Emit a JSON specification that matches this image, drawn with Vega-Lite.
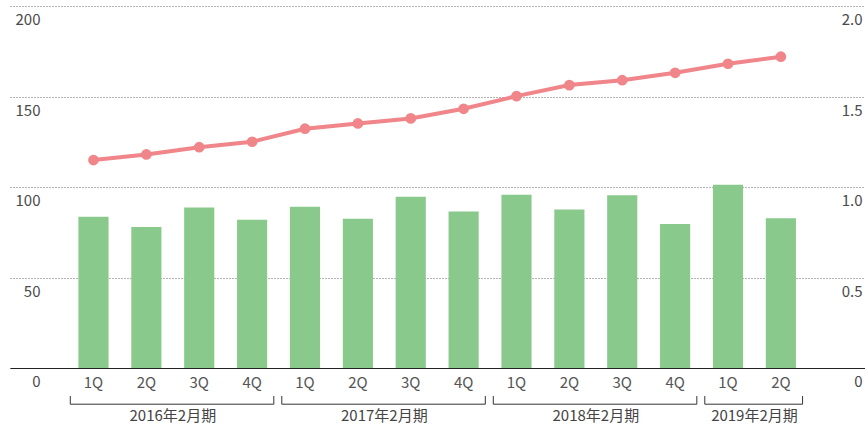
{
  "$schema": "https://vega.github.io/schema/vega-lite/v6.json",
  "width": 855,
  "height": 362,
  "padding": {"left": 10, "top": 6, "right": 0, "bottom": 57},
  "autosize": {"type": "none"},
  "background": "white",
  "config": {
    "view": {"stroke": null},
    "font": "Noto Sans CJK JP",
    "axis": {"labelFont": "Noto Sans CJK JP", "labelColor": "#4a4a4a", "labelFontSize": 15, "title": null}
  },
  "datasets": {
    "main": [
      {"key": "2016-1Q", "sales": 83.6, "ratio": 1.149},
      {"key": "2016-2Q", "sales": 77.9, "ratio": 1.180},
      {"key": "2016-3Q", "sales": 88.7, "ratio": 1.220},
      {"key": "2016-4Q", "sales": 81.9, "ratio": 1.250},
      {"key": "2017-1Q", "sales": 89.1, "ratio": 1.322},
      {"key": "2017-2Q", "sales": 82.5, "ratio": 1.351},
      {"key": "2017-3Q", "sales": 94.6, "ratio": 1.379},
      {"key": "2017-4Q", "sales": 86.4, "ratio": 1.432},
      {"key": "2018-1Q", "sales": 95.7, "ratio": 1.502},
      {"key": "2018-2Q", "sales": 87.6, "ratio": 1.563},
      {"key": "2018-3Q", "sales": 95.4, "ratio": 1.590},
      {"key": "2018-4Q", "sales": 79.5, "ratio": 1.631},
      {"key": "2019-1Q", "sales": 101.3, "ratio": 1.681},
      {"key": "2019-2Q", "sales": 82.7, "ratio": 1.720}
    ],
    "groups": [
      {"label": "2016年2月期", "first": "2016-1Q", "last": "2016-4Q", "mid": "2016-2Q"},
      {"label": "2017年2月期", "first": "2017-1Q", "last": "2017-4Q", "mid": "2017-2Q"},
      {"label": "2018年2月期", "first": "2018-1Q", "last": "2018-4Q", "mid": "2018-2Q"},
      {"label": "2019年2月期", "first": "2019-1Q", "last": "2019-2Q", "mid": "2019-1Q"}
    ]
  },
  "layer": [
    {
      "data": {"name": "main"},
      "mark": {"type": "bar", "color": "#89C98B"},
      "encoding": {
        "x": {
          "field": "key", "type": "nominal",
          "scale": {
            "domain": ["_start", "2016-1Q", "2016-2Q", "2016-3Q", "2016-4Q", "2017-1Q", "2017-2Q", "2017-3Q", "2017-4Q", "2018-1Q", "2018-2Q", "2018-3Q", "2018-4Q", "2019-1Q", "2019-2Q", "_end"],
            "paddingInner": 0.43, "paddingOuter": 0.3, "align": 0.49
          },
          "axis": {
            "labelExpr": "indexof(datum.label, '-') > 0 ? split(datum.label, '-')[1] : ''",
            "labelAngle": 0,
            "ticks": false,
            "domainColor": "#222222",
            "domainWidth": 1,
            "labelPadding": 7,
            "labelColor": "#555555",
            "zindex": 1
          }
        },
        "y": {
          "field": "sales", "type": "quantitative",
          "scale": {"domain": [0, 200], "nice": false},
          "axis": {
            "orient": "left",
            "values": [0, 50, 100, 150, 200],
            "grid": true,
            "gridDash": [1, 2],
            "gridColor": "#666666",
            "domain": false,
            "ticks": false,
            "labelAlign": "right",
            "labelPadding": -30,
            "labelOffset": 13.5
          }
        }
      }
    },
    {
      "data": {"name": "main"},
      "mark": {"type": "line", "color": "#F0858A", "strokeWidth": 4, "point": {"filled": true, "size": 115, "color": "#F0858A", "opacity": 1}},
      "encoding": {
        "x": {"field": "key", "type": "nominal"},
        "y": {
          "field": "ratio", "type": "quantitative",
          "scale": {"domain": [0, 2], "nice": false},
          "axis": {
            "orient": "right",
            "values": [0, 0.5, 1, 1.5, 2],
            "labelExpr": "datum.value == 0 ? '0' : format(datum.value, '.1f')",
            "grid": false,
            "domain": false,
            "ticks": false,
            "labelAlign": "right",
            "labelPadding": -3,
            "labelOffset": 13.5
          }
        }
      }
    },
    {
      "data": {"name": "groups"},
      "mark": {"type": "rule", "color": "#333333", "strokeWidth": 1},
      "encoding": {
        "x": {"field": "first", "type": "nominal", "bandPosition": -0.27},
        "x2": {"field": "last", "bandPosition": 1.22},
        "y": {"datum": -20, "type": "quantitative", "scale": {"domain": [0, 200], "nice": false}, "axis": null}
      }
    },
    {
      "data": {"name": "groups"},
      "mark": {"type": "rule", "color": "#333333", "strokeWidth": 1},
      "encoding": {
        "x": {"field": "first", "type": "nominal", "bandPosition": -0.27},
        "y": {"datum": -20, "type": "quantitative", "scale": {"domain": [0, 200], "nice": false}, "axis": null},
        "y2": {"datum": -15.5}
      }
    },
    {
      "data": {"name": "groups"},
      "mark": {"type": "rule", "color": "#333333", "strokeWidth": 1},
      "encoding": {
        "x": {"field": "last", "type": "nominal", "bandPosition": 1.22},
        "y": {"datum": -20, "type": "quantitative", "scale": {"domain": [0, 200], "nice": false}, "axis": null},
        "y2": {"datum": -15.5}
      }
    },
    {
      "data": {"name": "groups"},
      "mark": {"type": "text", "fontSize": 15, "color": "#444444", "baseline": "middle", "align": "center"},
      "encoding": {
        "x": {"field": "mid", "type": "nominal", "bandPosition": 1.378},
        "y": {"datum": -26.5, "type": "quantitative", "scale": {"domain": [0, 200], "nice": false}, "axis": null},
        "text": {"field": "label"}
      }
    }
  ],
  "resolve": {"scale": {"y": "independent"}}
}
